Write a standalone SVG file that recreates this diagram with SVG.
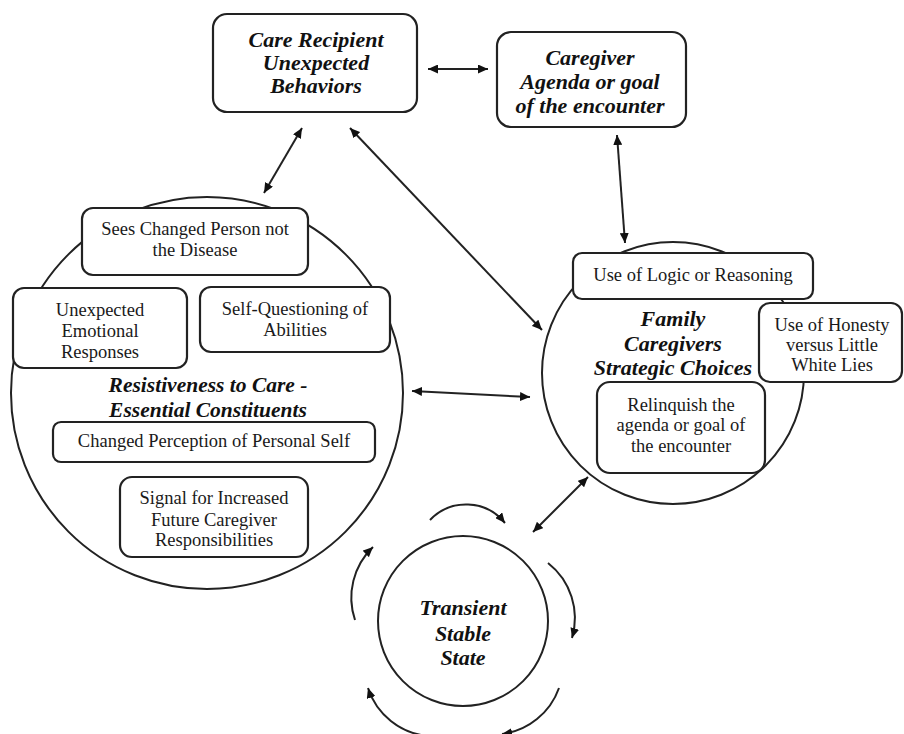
<svg xmlns="http://www.w3.org/2000/svg" width="904" height="734" viewBox="0 0 904 734">
<defs>
<style>
.bg{fill:#ffffff}
.ring{fill:none;stroke:#222;stroke-width:2}
.box{fill:#ffffff;stroke:#222;stroke-width:2.2}
.t{font-family:"Liberation Serif","Times New Roman",serif;font-size:18.5px;fill:#1a1a1a;text-anchor:middle}
.h{font-family:"Liberation Serif","Times New Roman",serif;font-size:22px;font-weight:bold;font-style:italic;fill:#111;text-anchor:middle}
.c{fill:none;stroke:#222;stroke-width:2}
.dbl{marker-start:url(#ah);marker-end:url(#ah)}
.one{marker-end:url(#ah)}
</style>
<marker id="ah" markerUnits="userSpaceOnUse" markerWidth="11" markerHeight="9" refX="10" refY="4.5" orient="auto-start-reverse">
<path d="M0,0 L10,4.5 L0,9 z" fill="#111"/>
</marker>
</defs>
<rect class="bg" x="0" y="0" width="904" height="734"/>

<g id="resistiveness">
<circle class="ring" cx="207" cy="393" r="196"/>
<text class="h" x="208" y="392" style="font-size:21.5px">Resistiveness to Care -</text>
<text class="h" x="208" y="416.5" style="font-size:21.5px">Essential Constituents</text>
</g>

<g id="family-caregivers">
<circle class="ring" cx="673" cy="373" r="131"/>
<text class="h" x="673" y="326">Family</text>
<text class="h" x="673" y="351">Caregivers</text>
<text class="h" x="673" y="374.5">Strategic Choices</text>
</g>

<g id="transient">
<circle class="ring" cx="463" cy="621" r="85"/>
<text class="h" x="463" y="614.5">Transient</text>
<text class="h" x="463" y="641">Stable</text>
<text class="h" x="463" y="664.5">State</text>
</g>

<g id="care-recipient">
<rect class="box" x="213" y="14" width="204" height="98" rx="14"/>
<text class="h" x="316" y="47">Care Recipient</text>
<text class="h" x="316" y="70">Unexpected</text>
<text class="h" x="316" y="93">Behaviors</text>
</g>

<g id="caregiver-agenda">
<rect class="box" x="497" y="32" width="189" height="95" rx="14"/>
<text class="h" x="590" y="65">Caregiver</text>
<text class="h" x="590" y="89">Agenda or goal</text>
<text class="h" x="590" y="113">of the encounter</text>
</g>

<g id="sees-changed">
<rect class="box" x="82" y="208" width="226" height="67" rx="11"/>
<text class="t" x="195" y="235">Sees Changed Person not</text>
<text class="t" x="195" y="255.5">the Disease</text>
</g>

<g id="unexpected-emotional">
<rect class="box" x="13" y="288" width="174" height="80" rx="11"/>
<text class="t" x="100" y="315.5">Unexpected</text>
<text class="t" x="100" y="337">Emotional</text>
<text class="t" x="100" y="357.5">Responses</text>
</g>

<g id="self-questioning">
<rect class="box" x="200" y="287" width="190" height="65" rx="11"/>
<text class="t" x="295" y="315">Self-Questioning of</text>
<text class="t" x="295" y="336">Abilities</text>
</g>

<g id="changed-perception">
<rect class="box" x="53" y="422" width="322" height="40" rx="8"/>
<text class="t" x="214" y="446.5">Changed Perception of Personal Self</text>
</g>

<g id="signal">
<rect class="box" x="120" y="477" width="188" height="80" rx="12"/>
<text class="t" x="214" y="504">Signal for Increased</text>
<text class="t" x="214" y="525.5">Future Caregiver</text>
<text class="t" x="214" y="545.5">Responsibilities</text>
</g>

<g id="logic">
<rect class="box" x="573" y="253" width="240" height="46" rx="9"/>
<text class="t" x="693" y="280.5">Use of Logic or Reasoning</text>
</g>

<g id="honesty">
<rect class="box" x="759" y="303" width="143" height="79" rx="11"/>
<text class="t" x="832" y="330.5">Use of Honesty</text>
<text class="t" x="832" y="350.5">versus Little</text>
<text class="t" x="832" y="370.5">White Lies</text>
</g>

<g id="relinquish">
<rect class="box" x="597" y="382" width="168" height="91" rx="13"/>
<text class="t" x="681" y="410.5">Relinquish the</text>
<text class="t" x="681" y="431">agenda or goal of</text>
<text class="t" x="681" y="452">the encounter</text>
</g>

<g id="connectors">
<line class="c dbl" x1="428" y1="69" x2="488" y2="69"/>
<line class="c dbl" x1="302" y1="128" x2="264" y2="193"/>
<line class="c dbl" x1="350" y1="128" x2="542" y2="330"/>
<line class="c dbl" x1="617" y1="135" x2="625" y2="243"/>
<line class="c dbl" x1="412" y1="391" x2="530" y2="397"/>
<line class="c dbl" x1="533" y1="532" x2="588" y2="477"/>
<path class="c one" d="M430,520 A50,50 0 0 1 505,523"/>
<path class="c one" d="M548,563 A70,70 0 0 1 572,638"/>
<path class="c one" d="M559,688 A70,70 0 0 1 502,734"/>
<path class="c one" d="M428,736 A70,70 0 0 1 368,688"/>
<path class="c one" d="M355,620 A70,70 0 0 1 373,547"/>
</g>
</svg>
